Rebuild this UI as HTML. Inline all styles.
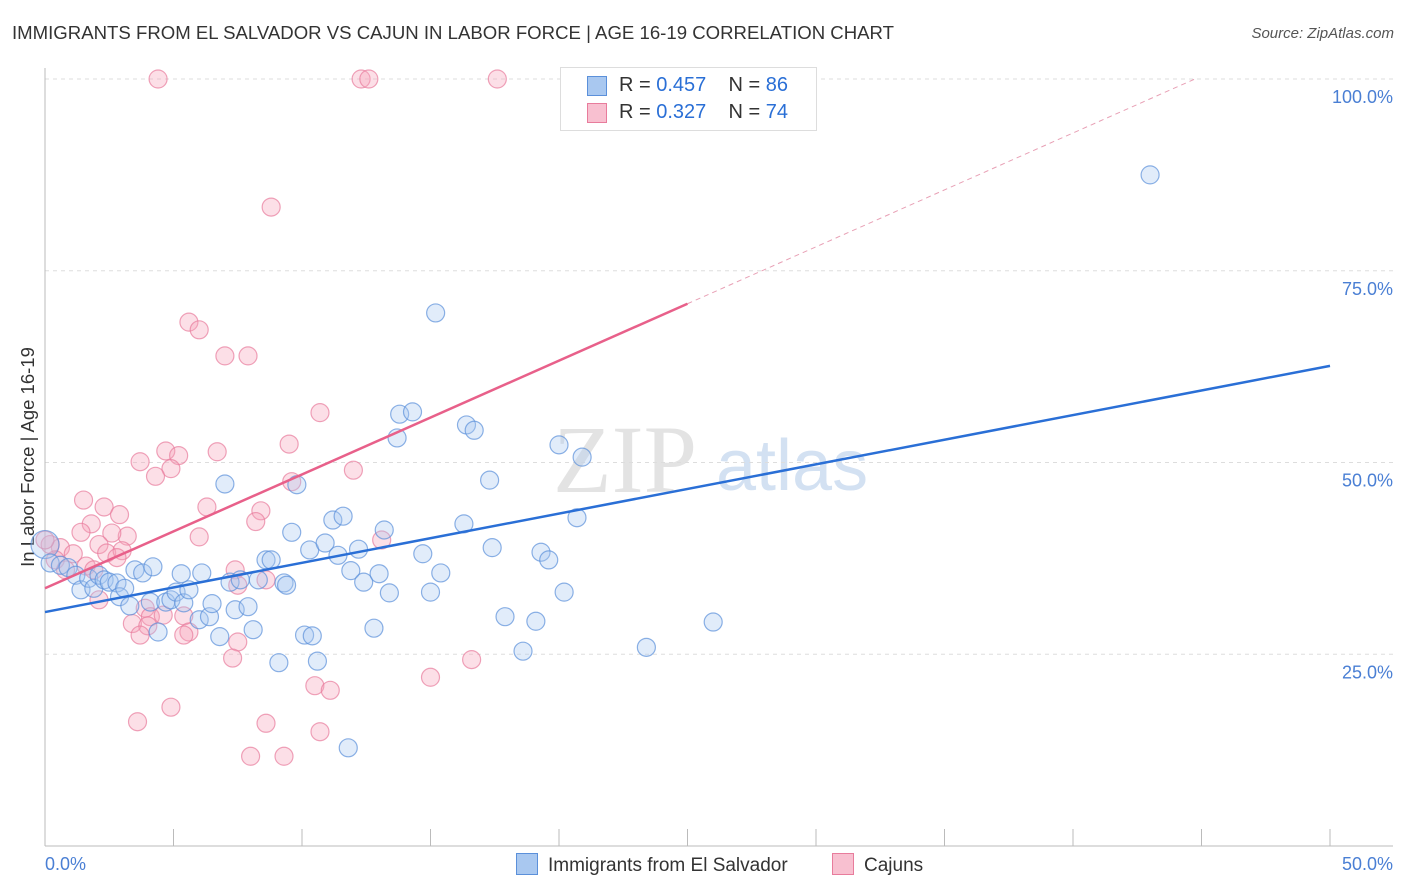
<!DOCTYPE html>
<html><head><meta charset="utf-8"><style>
body{margin:0;background:#fff;font-family:"Liberation Sans",sans-serif;}
#wrap{position:relative;width:1406px;height:892px;overflow:hidden;}
.t{position:absolute;white-space:nowrap;}
</style></head><body>
<div id="wrap">
<div class="t" style="left:12px;top:22px;font-size:18.6px;color:#333;">IMMIGRANTS FROM EL SALVADOR VS CAJUN IN LABOR FORCE | AGE 16-19 CORRELATION CHART</div>
<div class="t" style="right:12px;top:25px;font-size:15px;color:#555;font-style:italic;">Source: ZipAtlas.com</div>
<svg id="svg" width="1406" height="892" style="position:absolute;left:0;top:0"></svg>
</div>
<script>
const xTicks=[0,50];
const xTickLabels=["0.0%","50.0%"];
const yTicks=[25,50,75,100];
const yTickLabels=["25.0%","50.0%","75.0%","100.0%"];
const blueX=[0,0.2,0.6,0.9,1.2,1.4,1.7,1.9,2.1,2.3,2.5,2.8,2.9,3.1,3.3,3.5,3.8,4.1,4.2,4.4,4.7,4.9,5.1,5.3,5.4,5.6,6.0,6.1,6.4,6.5,6.8,7.0,7.2,7.4,7.6,7.9,8.1,8.3,8.6,8.8,9.1,9.3,9.4,9.6,9.8,10.1,10.3,10.4,10.6,10.9,11.2,11.4,11.6,11.8,11.9,12.2,12.4,12.8,13.0,13.2,13.4,13.7,13.8,14.3,14.7,15.0,15.2,15.4,16.3,16.4,16.7,17.3,17.4,17.9,18.6,19.1,19.3,19.6,20.0,20.2,20.7,20.9,23.4,26.0,43.0];
const blueY=[39.3,36.9,36.6,36.3,35.3,33.4,34.9,33.6,35.3,34.7,34.4,34.3,32.5,33.6,31.3,36.0,35.6,31.8,36.4,27.9,31.8,32.1,33.1,35.5,31.7,33.4,29.5,35.6,29.9,31.6,27.3,47.2,34.4,30.8,34.7,31.2,28.2,34.7,37.3,37.3,23.9,34.3,34.0,40.9,47.1,27.5,38.6,27.4,24.1,39.5,42.5,37.9,43.0,12.8,35.9,38.7,34.4,28.4,35.5,41.2,33.0,53.2,56.3,56.6,38.1,33.1,69.5,35.6,42.0,54.9,54.2,47.7,38.9,29.9,25.4,29.3,38.3,37.3,52.3,33.1,42.8,50.7,25.9,29.2,87.5];
const pinkX=[4.4,12.3,12.6,17.6,8.8,5.6,6.0,7.0,7.9,10.7,9.5,4.7,3.7,5.2,6.7,4.9,4.3,12.0,9.6,1.5,2.3,6.3,2.9,8.4,1.8,8.2,1.4,3.2,2.6,6.0,13.1,0.6,1.1,2.1,2.4,3.0,2.8,0.2,0.4,0.8,1.6,1.9,7.4,8.6,7.5,2.1,3.9,4.1,4.6,5.4,3.4,4.0,5.6,5.4,3.7,7.5,7.3,16.6,15.0,10.5,11.1,3.6,4.9,8.6,10.7,8.0,9.3,0];
const pinkY=[100,100,100,100,83.3,68.3,67.3,63.9,63.9,56.5,52.4,51.5,50.1,50.9,51.4,49.2,48.2,49.0,47.5,45.1,44.2,44.2,43.2,43.7,42.0,42.3,40.9,40.4,40.8,40.3,39.9,38.9,38.1,39.3,38.2,38.5,37.6,39.3,37.3,36.0,36.5,36.0,36.0,34.7,34.0,32.1,31.0,29.9,30.1,30.0,29.0,28.7,27.9,27.5,27.5,26.6,24.5,24.3,22.0,20.9,20.3,16.2,18.1,16.0,14.9,11.7,11.7,39.9];
const blueLine=[30.5,62.6];
const pinkLine=[33.6,70.7,25.0];

const X=v=>45+v/50*1285, Y=v=>846-v/100*767;
const svg=document.getElementById('svg');const NS='http://www.w3.org/2000/svg';
function mk(t,a,p){const e=document.createElementNS(NS,t);for(const k in a)e.setAttribute(k,a[k]);(p||svg).appendChild(e);return e;}
let w=mk('text',{x:553,y:492,'font-size':96,fill:'#ddd','font-family':'Liberation Serif',opacity:0.8});w.textContent='ZIP';


let w2=mk('text',{x:716,y:490,'font-size':72,fill:'#c9daf0','font-family':'Liberation Sans',opacity:0.8});w2.textContent='atlas';


yTicks.forEach((v,i)=>{
 let g=mk('line',{x1:45,x2:1393,y1:Y(v),y2:Y(v),stroke:'#ddd','stroke-dasharray':'4,4'});
 
 
 let t=mk('text',{x:1393,y:Y(v)+24,'text-anchor':'end','font-size':18,fill:'#4a7fd4'});t.textContent=yTickLabels[i];
 
 
});
mk('line',{x1:45,x2:45,y1:68,y2:846,stroke:'#bbb'});
mk('line',{x1:45,x2:1393,y1:846,y2:846,stroke:'#bbb'});
for(let i=0;i<=10;i++){let tk=mk('line',{x1:X(i*5),x2:X(i*5),y1:829,y2:846,stroke:'#bbb'});
 
 }
xTicks.forEach((v,i)=>{let t=mk('text',{x:i==0?45:1393,y:870,'text-anchor':i==0?'start':'end','font-size':18,fill:'#4a7fd4'});t.textContent=xTickLabels[i];
 
 });
let yt=mk('text',{x:34,y:457,'text-anchor':'middle','font-size':18.5,fill:'#333',transform:'rotate(-90 34 457)'});yt.textContent='In Labor Force | Age 16-19';


function pts(xs,ys,fill,stroke,name){xs.forEach((x,i)=>{let c=mk('circle',{cx:X(x),cy:Y(ys[i]),r:(i==0&&name=='blue-point')?14:9,fill:fill,'fill-opacity':0.35,stroke:stroke,'stroke-opacity':0.7,'stroke-width':1.2});
 
 });}
pts(pinkX,pinkY,'#f5a3bb','#e87c9c','pink-point');
pts(blueX,blueY,'#a9c8f0','#5b90da','blue-point');
let bl=mk('line',{x1:X(0),y1:Y(blueLine[0]),x2:X(50),y2:Y(blueLine[1]),stroke:'#2a6fd6','stroke-width':2.5});


const slope=(pinkLine[1]-pinkLine[0])/pinkLine[2];const xe=(100-pinkLine[0])/slope;
let pd=mk('line',{x1:X(pinkLine[2]),y1:Y(pinkLine[1]),x2:X(xe),y2:Y(100),stroke:'#e8a0b5','stroke-width':1,'stroke-dasharray':'5,4'});


let pl=mk('line',{x1:X(0),y1:Y(pinkLine[0]),x2:X(pinkLine[2]),y2:Y(pinkLine[1]),stroke:'#e8608a','stroke-width':2.5});


</script>
<div class="t" style="left:560px;top:67px;width:255px;height:62px;border:1px solid #ddd;background:#fff;font-size:20px;">
 <div style="position:absolute;left:26px;top:8px;width:18px;height:18px;background:#a9c8f0;border:1px solid #5b90da;"></div>
 <div class="t" style="left:58px;top:6px;color:#333;">R = <span style="color:#2a6fd6">0.457</span>&nbsp;&nbsp;&nbsp; N = <span style="color:#2a6fd6">86</span></div>
 <div style="position:absolute;left:26px;top:35px;width:18px;height:18px;background:#f8c0d0;border:1px solid #e87c9c;"></div>
 <div class="t" style="left:58px;top:33px;color:#333;">R = <span style="color:#2a6fd6">0.327</span>&nbsp;&nbsp;&nbsp; N = <span style="color:#2a6fd6">74</span></div>
</div>
<div class="t" style="left:516px;top:853px;font-size:19px;color:#333;"><span style="display:inline-block;width:20px;height:20px;background:#a9c8f0;border:1px solid #5b90da;vertical-align:-4px;margin-right:10px;"></span>Immigrants from El Salvador</div>
<div class="t" style="left:832px;top:853px;font-size:19px;color:#333;"><span style="display:inline-block;width:20px;height:20px;background:#f8c0d0;border:1px solid #e87c9c;vertical-align:-4px;margin-right:10px;"></span>Cajuns</div>
</body></html>
